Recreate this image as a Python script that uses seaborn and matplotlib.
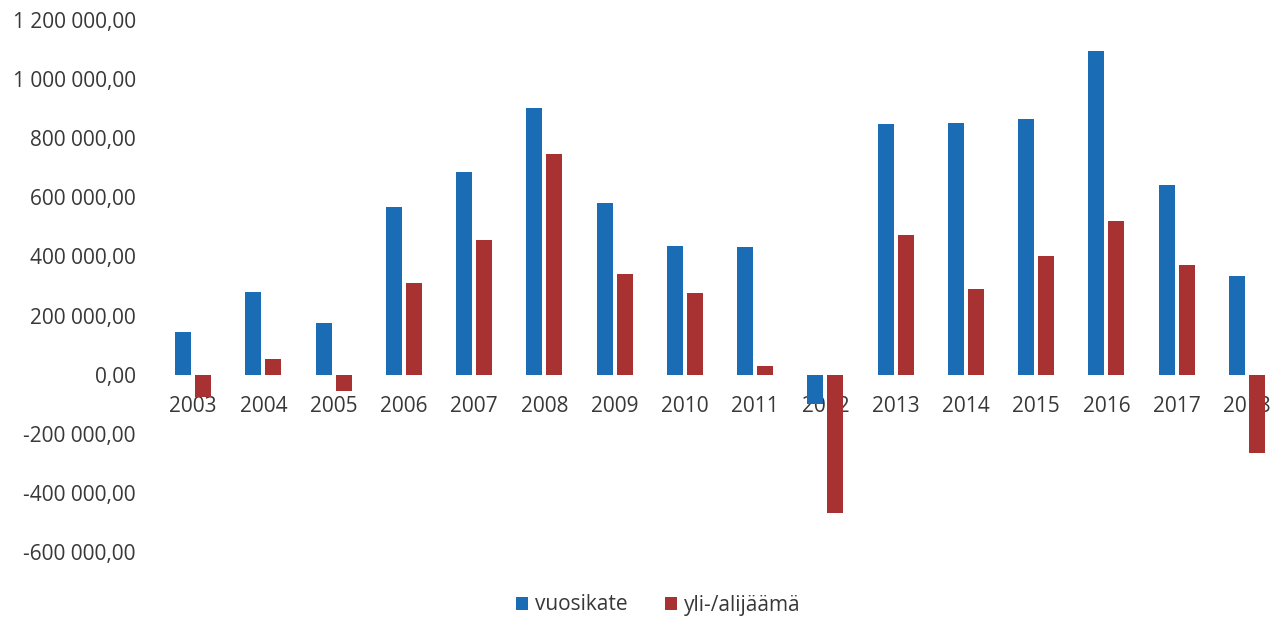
import matplotlib
matplotlib.use("Agg")
import matplotlib.pyplot as plt
import seaborn as sns
import pandas as pd
from matplotlib.ticker import FuncFormatter, MultipleLocator
from matplotlib.patches import Patch

years = [str(y) for y in range(2003, 2019)]
vuosikate = [144000, 280000, 175000, 567000, 686000, 903000, 581000, 436000,
             432000, -100000, 848000, 851000, 865000, 1095000, 642000, 334000]
ylijaama = [-75000, 53000, -55000, 310000, 456000, 747000, 340000, 277000,
            29000, -468000, 473000, 290000, 401000, 520000, 371000, -265000]
series_names = ["vuosikate", "yli-/alijäämä"]
colors = ["#1a6db5", "#a83232"]

df = pd.DataFrame({
    "year": years * 2,
    "value": vuosikate + ylijaama,
    "series": [series_names[0]] * len(years) + [series_names[1]] * len(years),
})

sns.set_theme(style="white")
plt.rcParams["font.family"] = ["Open Sans", "DejaVu Sans"]

fig = plt.figure(figsize=(12.85, 6.19), dpi=100)
ax = fig.add_axes([158 / 1285, 1 - 552 / 619, 1124 / 1285, (552 - 20) / 619])

sns.barplot(data=df, x="year", y="value", hue="series", order=years,
            hue_order=series_names, palette=colors, width=0.57, gap=0.2,
            saturation=1, linewidth=0, ax=ax, legend=False)

ax.set_xlim(-0.5, 15.5)
ax.set_ylim(-600000, 1200000)
ax.yaxis.set_major_locator(MultipleLocator(200000))

def fmt(v, pos):
    s = f"{abs(v):,.2f}".replace(",", " ").replace(".", ",")
    return ("-" if v < 0 else "") + s

ax.yaxis.set_major_formatter(FuncFormatter(fmt))
for s in ax.spines.values():
    s.set_visible(False)
ax.spines["bottom"].set_position(("data", 0))
ax.tick_params(axis="y", length=0, pad=16, labelsize=15, labelcolor="#383838")
ax.tick_params(axis="x", length=0, pad=15, labelsize=15, labelcolor="#383838")
ax.set_xlabel("")
ax.set_ylabel("")
ax.grid(False)

handles = [Patch(facecolor=c, edgecolor="none") for c in colors]
fig.legend(handles, series_names, loc="center", bbox_to_anchor=(658 / 1285, 1 - 605 / 619),
           ncol=2, frameon=False, fontsize=15, handlelength=0.6, handleheight=0.6,
           handletextpad=0.3, columnspacing=1.8, labelcolor="#383838")

fig.savefig("out.png", dpi=100)
